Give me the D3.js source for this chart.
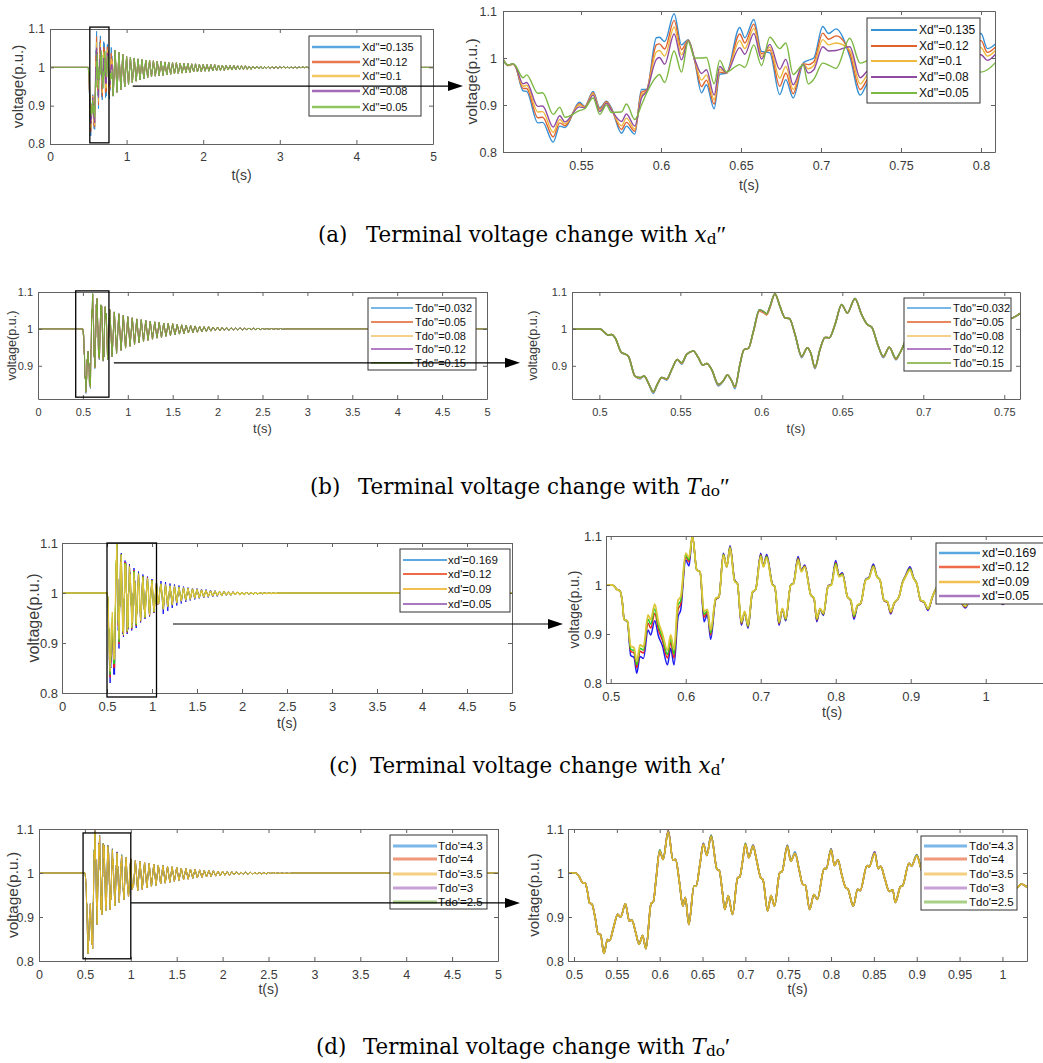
<!DOCTYPE html>
<html><head><meta charset="utf-8">
<script src="https://cdn.jsdelivr.net/npm/d3@7"></script>
<style>body{margin:0;background:#fff}svg{display:block}</style>
</head><body>
<svg id="c" width="1043" height="1063"></svg>
<script>
// ---------------- DATA ----------------
// (a) zoom window, Xd'' series
const tA = [0.5013,0.5044,0.5075,0.509,0.5138,0.516,0.523,0.526,0.5326,0.5367,0.540,0.549,0.5523,0.5576,0.5617,0.5659,0.569,0.5753,0.5784,0.5836,0.5878,0.591,0.5971,0.599,0.6023,0.6082,0.6128,0.617,0.6211,0.6253,0.6284,0.6332,0.6367,0.6409,0.6492,0.6524,0.658,0.6628,0.668,0.6742,0.678,0.6826,0.6888,0.692,0.6955,0.7011,0.7047,0.7094,0.718,0.7245,0.730,0.734,0.741,0.749,0.753,0.758,0.767,0.775,0.780,0.784,0.792,0.800,0.804,0.809];
const aXd135 = [.997,.984,.987,.982,.930,.929,.862,.863,.821,.855,.852,.906,.897,.929,.894,.908,.894,.840,.855,.838,.933,.933,1.043,1.044,1.035,1.094,1.028,1.039,.993,.926,.943,.892,.965,.968,1.065,1.043,1.082,1.014,1.011,.922,.954,.915,.989,.995,1.000,1.067,1.052,1.062,1.003,.921,.949,.925,1.000,1.060,1.027,1.045,.974,.917,.951,.940,1.010,1.052,1.020,1.030];
const aXd12 = [.997,.984,.987,.982,.935,.935,.873,.874,.832,.862,.856,.903,.896,.926,.891,.907,.892,.848,.863,.844,.927,.932,1.028,1.030,1.019,1.080,1.018,1.038,.994,.939,.953,.902,.970,.968,1.051,1.032,1.072,1.009,1.017,.940,.968,.924,.988,.986,.992,1.053,1.040,1.047,1.010,.933,.957,.936,.996,1.053,1.022,1.042,.977,.927,.956,.945,1.006,1.037,1.012,1.023];
const aXd10 = [.997,.984,.987,.983,.940,.942,.885,.886,.842,.869,.860,.900,.895,.924,.889,.905,.890,.856,.872,.849,.921,.930,1.013,1.016,1.004,1.066,1.007,1.038,.996,.953,.964,.911,.976,.969,1.037,1.020,1.063,1.003,1.023,.957,.982,.933,.988,.977,.984,1.039,1.028,1.032,1.017,.945,.966,.947,.991,1.046,1.017,1.040,.980,.938,.961,.949,1.001,1.022,1.004,1.016];
const aXd08 = [.997,.985,.988,.983,.945,.948,.897,.898,.853,.877,.864,.896,.894,.921,.886,.904,.889,.865,.881,.855,.915,.929,.997,1.001,.987,1.051,.996,1.037,.997,.967,.975,.921,.982,.969,1.022,1.008,1.052,.998,1.029,.976,.997,.943,.987,.968,.975,1.024,1.015,1.016,1.024,.958,.974,.958,.986,1.038,1.012,1.037,.983,.949,.967,.954,.996,1.007,.995,1.008];
const aXd05 = [.997,.985,.988,.984,.958,.964,.925,.926,.880,.895,.874,.888,.892,.915,.880,.900,.884,.885,.902,.869,.900,.925,.960,.965,.948,1.015,.970,1.035,1.000,1.000,1.001,.945,.995,.970,.986,.980,1.028,.984,1.044,1.020,1.032,.965,.985,.945,.955,.989,.985,.978,1.042,.989,.995,.985,.975,1.020,1.000,1.030,.990,.975,.980,.965,.985,.970,.975,.990];
// alternating trough/peak extremes every 0.025 s after the zoom window
const tailA0 = 0.825;
const tailA = [.925,1.045,.935,1.039,.942,1.034,.949,1.028,.955,1.026,.960,1.024,.964,1.022,.967,1.020,.970,1.019,.973,1.018,.975,1.017,.977,1.016,.978,1.015,.979,1.014,.980,1.013,.982,1.012,.983,1.012,.984,1.011,.985,1.010,.986,1.010,.987,1.009,.988,1.009,.988,1.008,.989,1.008,.990,1.007,.990,1.007,.991,1.007,.991,1.006,.992,1.006,.992,1.005,.993,1.005,.993,1.005,.994,1.004,.994,1.004,.995,1.004,.995,1.003,.995,1.003,.996,1.003,.996,1.003,.996,1.002,.997,1.002,.997,1.002,.997,1.002,.997,1.002,.998,1.002,.998,1.001,.998,1.001,.998,1.001,.998,1.001,.999,1.001,.999,1.001,.999,1.001,.999,1.000,.999,1.000,.999];

// (b) zoom window, Tdo'' series
const tB = [0.4831,0.5004,0.5056,0.5076,0.5097,0.5138,0.5158,0.5179,0.522,0.5251,0.5276,0.5302,0.5333,0.5358,0.5385,0.5416,0.5447,0.5481,0.5508,0.5539,0.558,0.5611,0.5638,0.5663,0.5693,0.5735,0.5765,0.579,0.5817,0.5837,0.5868,0.5893,0.592,0.5951,0.5988,0.6012,0.6033,0.6053,0.6084,0.6115,0.6146,0.6173,0.6208,0.6249,0.6284,0.6305,0.6331,0.6362,0.6393,0.642,0.6455,0.6496,0.6531,0.6578,0.6619,0.6654,0.6681,0.6722,0.6753,0.679,0.6831,0.6856,0.691,0.700,0.704,0.709,0.718,0.726,0.730,0.734,0.740,0.749,0.753,0.7597];
const bTdo032 = [1.0,1.0,.983,.985,.976,.935,.932,.926,.872,.864,.872,.854,.825,.850,.868,.861,.890,.917,.904,.931,.940,.922,.902,.906,.890,.845,.859,.875,.859,.838,.904,.944,.947,.994,1.052,1.048,1.041,1.061,1.096,1.061,1.030,1.028,.985,.922,.949,.935,.892,.944,.977,.976,1.012,1.066,1.043,1.083,1.039,1.012,1.005,.953,.922,.950,.916,.935,.990,1.065,1.035,1.061,.989,.912,.949,.923,1.0,1.060,1.028,1.042];
const bTdo05 = [1.0,1.0,.983,.985,.976,.935,.932,.926,.872,.866,.872,.854,.828,.850,.868,.863,.890,.917,.906,.931,.940,.922,.902,.906,.890,.848,.859,.875,.859,.841,.904,.944,.947,.992,1.048,1.044,1.038,1.057,1.094,1.061,1.030,1.028,.985,.924,.949,.935,.894,.944,.977,.976,1.012,1.065,1.043,1.082,1.039,1.012,1.005,.953,.924,.950,.918,.935,.990,1.065,1.035,1.061,.989,.913,.949,.924,1.0,1.060,1.028,1.042];
const bTdo08 = [1.0,1.0,.983,.985,.976,.935,.932,.926,.872,.867,.872,.854,.829,.850,.868,.864,.890,.917,.907,.931,.940,.922,.902,.906,.890,.849,.859,.875,.859,.842,.904,.944,.947,.993,1.050,1.046,1.040,1.059,1.095,1.061,1.030,1.028,.985,.925,.949,.935,.895,.944,.977,.976,1.012,1.066,1.043,1.082,1.039,1.012,1.005,.953,.925,.950,.919,.935,.990,1.065,1.035,1.061,.989,.914,.949,.925,1.0,1.060,1.028,1.042];
const bTdo12 = [1.0,1.0,.983,.985,.976,.935,.932,.926,.872,.868,.872,.854,.830,.850,.868,.865,.890,.917,.908,.931,.940,.922,.902,.906,.890,.850,.859,.875,.859,.843,.904,.944,.947,.994,1.051,1.047,1.041,1.060,1.095,1.061,1.030,1.028,.985,.926,.949,.935,.896,.944,.977,.976,1.012,1.066,1.043,1.082,1.039,1.012,1.005,.953,.926,.950,.920,.935,.990,1.065,1.035,1.061,.989,.914,.949,.925,1.0,1.060,1.028,1.042];
const bTdo15 = [1.0,1.0,.983,.985,.976,.935,.932,.926,.872,.868,.872,.854,.830,.850,.868,.865,.890,.917,.908,.931,.940,.922,.902,.906,.890,.850,.859,.875,.859,.843,.904,.944,.947,.994,1.052,1.048,1.041,1.061,1.095,1.061,1.030,1.028,.985,.926,.949,.935,.896,.944,.977,.976,1.012,1.066,1.043,1.082,1.039,1.012,1.005,.953,.926,.950,.920,.935,.990,1.065,1.035,1.061,.989,.914,.949,.925,1.0,1.060,1.028,1.042];
const tailB0 = 0.775;
const tailB = [.917,1.052,.925,1.046,.934,1.041,.942,1.037,.948,1.033,.953,1.030,.958,1.027,.962,1.025,.966,1.023,.969,1.021,.972,1.019,.975,1.018,.977,1.016,.980,1.015,.982,1.014,.984,1.012,.986,1.011,.987,1.010,.989,1.009,.990,1.008,.991,1.007,.992,1.006,.993,1.006,.994,1.005,.995,1.005,.995,1.004,.996,1.004,.996,1.003,.997,1.003,.997,1.003,.997,1.002,.998,1.002,.998,1.002,.998,1.002,.998,1.001,.999,1.001,.999,1.001,.999,1.001,.999,1.001,.999,1.000];

// (c) zoom window, xd' series
const tC = [0.4937,0.502,0.509,0.5124,0.5156,0.5178,0.5222,0.5267,0.5311,0.5347,0.5391,0.5436,0.5498,0.5533,0.5587,0.5636,0.5689,0.5756,0.58,0.5844,0.5898,0.5933,0.60,0.6044,0.6089,0.6147,0.6191,0.6244,0.6289,0.6333,0.64,0.6444,0.6502,0.6547,0.6591,0.6653,0.6689,0.6742,0.6787,0.6831,0.6889,0.6933,0.70,0.7036,0.708,0.7156,0.7187,0.7244,0.7289,0.7333,0.74,0.7436,0.7498,0.7542,0.7587,0.7667,0.7711,0.7747,0.7791,0.7836,0.7898,0.7942,0.80,0.8044,0.8089,0.8156,0.82,0.8244,0.8289,0.8333,0.84,0.8444,0.8502,0.8547,0.8591,0.8644,0.8689,0.8733,0.8778,0.8844,0.8889,0.8933,0.8991,0.9036,0.908,0.9133,0.9178,0.9231,0.9289,0.9311,0.94,0.95,0.955,0.96,0.966,0.973,0.98,0.99,1.00,1.006,1.016,1.023,1.03,1.04,1.05,1.056,1.066,1.0751,1.085,1.0964];
const cXd169 = [1.0,1.0,.990,.988,.963,.930,.925,.856,.852,.820,.854,.850,.908,.898,.927,.896,.876,.837,.871,.837,.935,.949,1.051,1.039,1.100,1.031,1.027,.925,.940,.889,.970,.976,1.065,1.037,1.080,1.010,1.003,.918,.944,.912,.984,.991,1.065,1.040,1.062,1.002,.997,.918,.950,.927,1.000,1.004,1.058,1.030,1.041,.980,.972,.925,.950,.938,.998,1.002,1.050,1.020,1.025,.976,.968,.930,.957,.962,1.012,1.016,1.043,1.019,1.010,.968,.965,.941,.962,.976,1.005,1.020,1.037,1.016,1.003,.968,.965,.948,.975,.984,1.009,1.033,1.013,1.006,.971,.953,.977,1.006,1.028,1.009,.974,.960,.978,1.004,1.022,1.007,.977,.979,1.002,1.018];
const cXd12 = [1.0,1.0,.990,.988,.963,.930,.926,.865,.861,.831,.865,.861,.922,.912,.942,.909,.887,.851,.883,.851,.950,.961,1.057,1.047,1.100,1.031,1.027,.934,.945,.898,.971,.976,1.063,1.037,1.078,1.009,1.003,.921,.945,.915,.985,.991,1.062,1.039,1.059,1.001,.997,.921,.951,.929,1.000,1.003,1.055,1.029,1.039,.980,.972,.928,.951,.940,.998,1.001,1.046,1.019,1.023,.976,.968,.934,.958,.962,1.011,1.015,1.040,1.018,1.010,.968,.965,.943,.962,.976,1.004,1.019,1.034,1.015,1.003,.968,.965,.950,.975,.984,1.008,1.031,1.012,1.006,.971,.955,.977,1.006,1.026,1.008,.974,.961,.978,1.004,1.021,1.006,.977,.979,1.001,1.017];
const cXd09 = [1.0,1.0,.990,.988,.963,.930,.926,.869,.866,.837,.871,.867,.930,.920,.951,.916,.894,.858,.890,.859,.959,.968,1.061,1.051,1.100,1.031,1.027,.940,.947,.902,.972,.976,1.062,1.037,1.077,1.008,1.003,.923,.945,.916,.985,.991,1.060,1.038,1.058,1.001,.997,.923,.951,.930,1.000,1.003,1.053,1.028,1.038,.980,.973,.930,.951,.941,.997,1.001,1.044,1.018,1.022,.976,.969,.936,.958,.963,1.011,1.015,1.039,1.018,1.010,.969,.966,.945,.963,.976,1.004,1.018,1.033,1.015,1.003,.969,.966,.951,.976,.984,1.008,1.030,1.012,1.006,.972,.956,.978,1.005,1.025,1.008,.975,.962,.978,1.003,1.020,1.006,.978,.980,1.001,1.016];
const cXd05 = [1.0,1.0,.990,.988,.963,.930,.927,.875,.872,.844,.878,.874,.939,.929,.961,.925,.901,.867,.898,.869,.969,.976,1.065,1.056,1.100,1.031,1.027,.946,.950,.908,.973,.976,1.061,1.037,1.075,1.007,1.003,.925,.946,.918,.986,.991,1.058,1.037,1.056,1.000,.997,.925,.952,.932,1.000,1.003,1.051,1.027,1.037,.980,.973,.932,.952,.942,.997,1.000,1.041,1.017,1.020,.976,.969,.939,.959,.963,1.010,1.014,1.037,1.017,1.010,.969,.966,.946,.963,.976,1.003,1.017,1.031,1.014,1.003,.969,.966,.952,.976,.984,1.008,1.028,1.012,1.006,.972,.957,.978,1.005,1.024,1.008,.975,.963,.978,1.003,1.019,1.006,.978,.980,1.000,1.015];
const tailC0 = 1.1;
const tailC = [1.018,.968,1.016,.973,1.014,.977,1.013,.981,1.011,.984,1.010,.986,1.009,.988,1.008,.990,1.007,.991,1.006,.992,1.005,.993,1.004,.994,1.004,.995,1.003,.995,1.003,.996,1.002,.996,1.002,.997,1.002,.997,1.001,.997,1.001,.998,1.001,.998,1.001,.998,1.001,.999,1.000,.999,1.000,.999,1.000,.999,1.000,1.000];
const tailCBlue = [1.024,.958,1.022,.964,1.019,.970,1.017,.975,1.015,.979,1.013,.982,1.011,.985,1.010,.987,1.009,.989,1.008,.990,1.007,.991,1.006,.992,1.005,.993,1.004,.994,1.004,.995,1.003,.995,1.003,.996,1.002,.996,1.002,.997,1.002,.997,1.001,.998,1.001,.998,1.001,.998,1.001,.999,1.000,.999,1.000,.999,1.000,1.000];

// (d) zoom window, Tdo' series
const tD = [0.493,0.502,0.506,0.510,0.513,0.516,0.518,0.521,0.525,0.528,0.531,0.535,0.539,0.5415,0.546,0.551,0.5545,0.560,0.5645,0.5675,0.572,0.576,0.580,0.584,0.590,0.5925,0.596,0.600,0.604,0.610,0.6155,0.6185,0.623,0.627,0.630,0.634,0.640,0.6425,0.647,0.651,0.655,0.660,0.667,0.6695,0.673,0.676,0.680,0.685,0.691,0.6935,0.697,0.700,0.704,0.709,0.713,0.718,0.7205,0.726,0.730,0.734,0.740,0.743,0.749,0.753,0.758,0.763,0.767,0.770,0.775,0.780,0.784,0.792,0.7945,0.800,0.804,0.808,0.812,0.817,0.8195,0.826,0.831,0.834,0.842,0.8445,0.851,0.855,0.858,0.863,0.868,0.872,0.875,0.881,0.8835,0.891,0.894,0.900,0.905,0.912,0.918,0.925,0.931,0.940,0.950,0.955,0.962,0.975,0.980,0.990,1.000,1.008,1.013,1.018,1.022,1.0287];
const dTdo43 = [1.0,1.0,.992,.978,.977,.955,.932,.929,.895,.862,.860,.817,.849,.846,.875,.906,.900,.930,.891,.893,.865,.838,.858,.828,.931,.934,.990,1.053,1.031,1.096,1.029,1.031,.980,.925,.944,.883,.970,.970,1.020,1.068,1.040,1.086,1.008,1.006,.960,.917,.948,.906,.989,.991,1.030,1.068,1.035,1.064,1.030,.989,.985,.914,.949,.925,1.000,1.004,1.063,1.027,1.048,1.005,.974,.972,.917,.951,.940,1.010,1.010,1.055,1.017,1.030,1.000,.967,.964,.925,.963,.960,1.017,1.014,1.048,1.010,1.015,.985,.958,.962,.933,.969,.971,1.022,1.016,1.042,1.010,.965,.962,.940,.965,1.012,1.035,1.008,.978,.947,.958,1.010,1.032,.990,.963,.968,.975,.968];
const dTdo4 = [1.0,1.0,.992,.978,.977,.955,.932,.929,.895,.862,.860,.817,.849,.846,.875,.906,.900,.930,.891,.893,.865,.838,.858,.828,.931,.934,.990,1.050,1.031,1.097,1.029,1.031,.980,.925,.944,.883,.970,.970,1.020,1.067,1.040,1.085,1.008,1.006,.960,.917,.948,.906,.989,.991,1.030,1.067,1.035,1.063,1.030,.989,.985,.914,.949,.925,1.000,1.004,1.062,1.027,1.045,1.005,.974,.972,.917,.951,.940,1.010,1.010,1.054,1.017,1.030,1.000,.967,.964,.925,.963,.960,1.017,1.014,1.047,1.010,1.015,.985,.958,.962,.933,.969,.971,1.022,1.016,1.039,1.010,.965,.962,.940,.965,1.012,1.035,1.008,.978,.947,.958,1.010,1.032,.990,.963,.968,.975,.968];
const dTdo35 = [1.0,1.0,.992,.978,.977,.955,.932,.929,.895,.862,.860,.817,.849,.846,.875,.906,.900,.930,.891,.893,.865,.838,.858,.828,.931,.934,.990,1.050,1.031,1.093,1.029,1.031,.980,.925,.944,.883,.970,.970,1.020,1.065,1.040,1.083,1.008,1.006,.960,.917,.948,.906,.989,.991,1.030,1.065,1.035,1.061,1.030,.989,.985,.914,.949,.925,1.000,1.004,1.060,1.027,1.045,1.005,.974,.972,.917,.951,.940,1.010,1.010,1.052,1.017,1.030,1.000,.967,.964,.925,.963,.960,1.017,1.014,1.045,1.010,1.015,.985,.958,.962,.933,.969,.971,1.022,1.016,1.039,1.010,.965,.962,.940,.965,1.012,1.035,1.008,.978,.947,.958,1.010,1.032,.990,.963,.968,.975,.968];
const dTdo3 = [1.0,1.0,.992,.978,.977,.955,.932,.929,.895,.862,.860,.817,.849,.846,.875,.906,.900,.930,.891,.893,.865,.838,.858,.828,.931,.934,.990,1.050,1.031,1.096,1.029,1.031,.980,.925,.944,.883,.970,.970,1.020,1.067,1.040,1.085,1.008,1.006,.960,.917,.948,.906,.989,.991,1.030,1.065,1.035,1.061,1.030,.989,.985,.914,.949,.925,1.000,1.004,1.063,1.027,1.045,1.005,.974,.972,.917,.951,.940,1.010,1.010,1.055,1.017,1.030,1.000,.967,.964,.925,.963,.960,1.017,1.014,1.048,1.010,1.015,.985,.958,.962,.933,.969,.971,1.022,1.016,1.041,1.010,.965,.962,.940,.965,1.012,1.035,1.008,.978,.947,.958,1.010,1.032,.990,.963,.968,.975,.968];
const dTdo25 = [1.0,1.0,.992,.978,.977,.955,.932,.929,.895,.862,.860,.817,.849,.846,.875,.906,.900,.930,.891,.893,.865,.838,.858,.828,.931,.934,.990,1.052,1.031,1.095,1.029,1.031,.980,.925,.944,.883,.970,.970,1.020,1.065,1.040,1.085,1.008,1.006,.960,.917,.948,.906,.989,.991,1.030,1.067,1.035,1.061,1.030,.989,.985,.914,.949,.925,1.000,1.004,1.062,1.027,1.045,1.005,.974,.972,.917,.951,.940,1.010,1.010,1.054,1.017,1.030,1.000,.967,.964,.925,.963,.960,1.017,1.014,1.045,1.010,1.015,.985,.958,.962,.933,.969,.971,1.022,1.016,1.041,1.010,.965,.962,.940,.965,1.012,1.035,1.008,.978,.947,.958,1.010,1.032,.990,.963,.968,.975,.968];
const tailD0 = 1.05;
const tailD = [1.028,.960,1.026,.963,1.024,.966,1.022,.969,1.020,.972,1.018,.975,1.017,.977,1.015,.979,1.014,.981,1.013,.983,1.011,.985,1.010,.986,1.009,.988,1.008,.989,1.007,.990,1.006,.991,1.006,.992,1.005,.993,1.004,.994,1.004,.995,1.003,.995,1.003,.996,1.003,.996,1.002,.997,1.002,.997,1.002,.997,1.001,.998,1.001,.998,1.001,.998,1.001,.999,1.001,.999,1.000,.999,1.000,.999,1.000,.999,1.000,1.000];

// labels and ticks
const labelsA = ["Xd''=0.135","Xd''=0.12","Xd''=0.1","Xd''=0.08","Xd''=0.05"];
const labelsB = ["Tdo''=0.032","Tdo''=0.05","Tdo''=0.08","Tdo''=0.12","Tdo''=0.15"];
const labelsC = ["xd'=0.169","xd'=0.12","xd'=0.09","xd'=0.05"];
const labelsD = ["Tdo'=4.3","Tdo'=4","Tdo'=3.5","Tdo'=3","Tdo'=2.5"];
const ticksFull1 = [0,1,2,3,4,5];
const ticksFullHalf = [0,0.5,1,1.5,2,2.5,3,3.5,4,4.5,5];
const ticksZoomA = [0.55,0.6,0.65,0.7,0.75,0.8];
const ticksZoomB = [0.5,0.55,0.6,0.65,0.7,0.75];
const ticksZoomC = [0.5,0.6,0.7,0.8,0.9,1];
const ticksZoomD = [0.5,0.55,0.6,0.65,0.7,0.75,0.8,0.85,0.9,0.95,1];
const yTicks4 = [0.8,0.9,1,1.1];
const yTicks3 = [0.9,1,1.1];
const captions = [
  {tag:"(a)", sym:"x", sub:"d", prime:"\u2033"},
  {tag:"(b)", sym:"T", sub:"do", prime:"\u2033"},
  {tag:"(c)", sym:"x", sub:"d", prime:"\u2032"},
  {tag:"(d)", sym:"T", sub:"do", prime:"\u2032"}
];

// ---------------- HELPERS ----------------
const svg = d3.select('#c');
const SANS = "'Liberation Sans', Arial, Helvetica, sans-serif";
const SERIF = "'DejaVu Serif', serif";
const AXIS = '#616161', TXT = '#3a3a3a';
const fmt = d => String(+d.toFixed(2));
const zip = (t, v) => t.map((ti, i) => [ti, v[i]]);
function overview(t, v, tail, t0) {
  const pts = [[0, 1], [0.5, 1]];
  zip(t, v).forEach(p => { if (p[0] > 0.5) pts.push(p); });
  tail.forEach((val, i) => pts.push([t0 + i * 0.025, val]));
  pts.push([5, 1]);
  return pts;
}

let clipN = 0;
function panel(p) {
  const x = d3.scaleLinear(p.xd, [p.l, p.r]);
  const y = d3.scaleLinear(p.yd, [p.b, p.t]);
  const g = svg.append('g');
  const cid = 'clip' + (clipN++);
  svg.append('clipPath').attr('id', cid).append('rect')
    .attr('x', p.l).attr('y', p.t).attr('width', p.r - p.l).attr('height', p.b - p.t);
  const line = d3.line().x(d => x(d[0])).y(d => y(d[1])).curve(p.curve);
  const lg = g.append('g').attr('clip-path', `url(#${cid})`);
  p.series.forEach(s => {
    lg.append('path').attr('d', line(s.data)).attr('fill', 'none')
      .attr('stroke', s.color).attr('stroke-width', s.w).attr('stroke-linejoin', 'round')
      .attr('opacity', s.op || 1);
  });
  const ax = (gen, tr, vals, lab, pad) => {
    const a = g.append('g').attr('transform', tr)
      .call(gen.tickValues(vals).tickSizeInner(-4).tickSizeOuter(0).tickPadding(pad).tickFormat(lab ? fmt : () => ''));
    a.select('.domain').attr('stroke', AXIS);
    a.selectAll('.tick line').attr('stroke', AXIS);
    a.selectAll('text').attr('fill', TXT).attr('font-family', SANS).attr('font-size', p.fs);
  };
  ax(d3.axisBottom(x), `translate(0,${p.b})`, p.xt, true, p.xpad);
  ax(d3.axisTop(x), `translate(0,${p.t})`, p.xt, false, 0);
  ax(d3.axisLeft(y), `translate(${p.l},0)`, p.yt, true, p.ypad);
  ax(d3.axisRight(y), `translate(${p.r},0)`, p.yt, false, 0);
  g.append('text').attr('x', p.xlx || (p.l + p.r) / 2).attr('y', p.xly)
    .attr('text-anchor', 'middle').attr('dominant-baseline', 'central')
    .attr('font-family', SANS).attr('font-size', p.lfs).attr('fill', TXT).text('t(s)');
  g.append('text').attr('transform', `translate(${p.ylx},${(p.t + p.b) / 2}) rotate(-90)`)
    .attr('text-anchor', 'middle').attr('dominant-baseline', 'central')
    .attr('font-family', SANS).attr('font-size', p.ylfs).attr('fill', TXT).text('voltage(p.u.)');
  // legend
  const L = p.leg;
  g.append('rect').attr('x', L.box[0]).attr('y', L.box[1]).attr('width', L.box[2] - L.box[0])
    .attr('height', L.box[3] - L.box[1]).attr('fill', '#fff').attr('stroke', '#333').attr('stroke-width', 1);
  L.labels.forEach((lab, i) => {
    g.append('line').attr('x1', L.line[0]).attr('x2', L.line[1]).attr('y1', L.rows[i]).attr('y2', L.rows[i])
      .attr('stroke', L.colors[i]).attr('stroke-width', L.w);
    g.append('text').attr('x', L.tx).attr('y', L.rows[i]).attr('dominant-baseline', 'central')
      .attr('font-family', SANS).attr('font-size', L.fs).attr('fill', '#111').text(lab);
  });
  return {x, y};
}

function zoomMark(sc, box, start, tip) {
  const [t0, t1, v0, v1] = box;
  svg.append('rect').attr('x', sc.x(t0)).attr('y', sc.y(v1)).attr('width', sc.x(t1) - sc.x(t0))
    .attr('height', sc.y(v0) - sc.y(v1)).attr('fill', 'none').attr('stroke', '#000').attr('stroke-width', 1.3);
  const yy = sc.y(start[1]);
  svg.append('line').attr('x1', sc.x(start[0])).attr('x2', tip - 12).attr('y1', yy).attr('y2', yy)
    .attr('stroke', '#000').attr('stroke-width', 1.2);
  svg.append('path').attr('d', `M${tip},${yy} L${tip - 15},${yy - 5} L${tip - 15},${yy + 5} Z`).attr('fill', '#000');
}

// ---------------- PANELS ----------------
const colA = ['#3590d4', '#e0622f', '#eeb93e', '#8f4aa3', '#7cb842'];
const colALeg = ['#5aa7e0', '#e87850', '#f3c860', '#a36ab5', '#90c660'];
const seriesA = [aXd135, aXd12, aXd10, aXd08, aXd05];

const aL = panel({l:50, r:433, t:29, b:144, xd:[0,5], yd:[0.8,1.1], xt:ticksFull1, yt:yTicks4,
  fs:12, lfs:14, ylfs:15, xpad:8, ypad:5, xly:175, ylx:17, curve:d3.curveLinear,
  series: seriesA.map((v, i) => ({data: overview(tA, v, tailA, tailA0), color: colA[i], w: 1})),
  leg:{box:[309,36,421,116], rows:[47,62,76,91,107], line:[312,360], tx:362, fs:11, w:2.5, labels:labelsA, colors:colALeg}});
const aR = panel({l:503, r:995, t:11, b:152, xd:[0.50125,0.80875], yd:[0.8,1.1], xt:ticksZoomA, yt:yTicks4,
  fs:12.5, lfs:14, ylfs:15.5, xpad:9, ypad:6, xly:185, ylx:471, curve:d3.curveMonotoneX,
  series: seriesA.map((v, i) => ({data: zip(tA, v), color: colA[i], w: 1.4})),
  leg:{box:[867,18,980,103], rows:[30,46,61,77,93], line:[871,917], tx:919, fs:12, w:1.8, labels:labelsA, colors:colA}});

const colB = ['#4aa0e0', '#e0602a', '#f0c060', '#9a50b0', '#78a832'];
const seriesB = [bTdo032, bTdo05, bTdo08, bTdo12, bTdo15];
const bL = panel({l:38, r:487, t:292, b:399, xd:[0,5], yd:[0.81,1.1], xt:ticksFullHalf, yt:yTicks3,
  fs:11, lfs:13, ylfs:12.6, xpad:9, ypad:5, xly:428, ylx:12, curve:d3.curveLinear,
  series: seriesB.map((v, i) => ({data: overview(tB, v, tailB, tailB0), color: colB[i], w: 1})),
  leg:{box:[368,298,476,370], rows:[308,322,336,349,363], line:[371,413], tx:415, fs:11, w:1.6, labels:labelsB, colors:colB}});
const bR = panel({l:572, r:1020, t:292, b:399, xd:[0.4831,0.7597], yd:[0.81,1.1], xt:ticksZoomB, yt:yTicks3,
  fs:11, lfs:13, ylfs:12.6, xpad:9, ypad:5, xly:428, ylx:533, curve:d3.curveMonotoneX,
  series: seriesB.map((v, i) => ({data: zip(tB, v), color: colB[i], w: 1.5})),
  leg:{box:[904,298,1011,371], rows:[308,322,336,349,363], line:[907,951], tx:953, fs:11, w:1.6, labels:labelsB, colors:colB}});

const colC = ['#1c1cf0', '#f02020', '#22d022', '#dcc638'];
const colCLeg = ['#5aa8e0', '#ee6a48', '#f2c050', '#a878c0'];
const seriesC = [cXd169, cXd12, cXd09, cXd05];
const cL = panel({l:62, r:512, t:543, b:693, xd:[0,5], yd:[0.8,1.1], xt:ticksFullHalf, yt:yTicks4,
  fs:13, lfs:14, ylfs:16, xpad:8.5, ypad:4, xly:723, ylx:33, curve:d3.curveLinear,
  series: seriesC.map((v, i) => ({data: overview(tC, v, i === 0 ? tailCBlue : tailC, tailC0), color: colC[i], w: i === 3 ? 1.3 : 1})),
  leg:{box:[400,549,510,612], rows:[560,574,589,604], line:[403,447], tx:448, fs:11.5, w:2, labels:labelsC, colors:colCLeg}});
const cR = panel({l:606, r:1058, t:536, b:683, xd:[0.4937,1.0964], yd:[0.8,1.1], xt:ticksZoomC, yt:yTicks4,
  fs:13, lfs:14, ylfs:14, xpad:9, ypad:4, xly:712, ylx:574, curve:d3.curveMonotoneX,
  series: seriesC.map((v, i) => ({data: zip(tC, v), color: colC[i], w: i === 3 ? 1.8 : 1.5})),
  leg:{box:[936,543,1056,604], rows:[553,567,582,596], line:[939,980], tx:982, fs:12.5, w:2.5, labels:labelsC, colors:colCLeg}});

const colD = {b:'#2f8fe0', r:'#e2583a', y:'#e2b52a', p:'#8c4aa8', g:'#6cb040'};
const colDLeg = ['#7ab8ea', '#f0987a', '#f5d080', '#c7a0d6', '#a8d088'];
// draw order: yellow (Tdo'=3.5) on top
const seriesD = [[dTdo43, colD.b], [dTdo4, colD.r], [dTdo3, colD.p], [dTdo25, colD.g], [dTdo35, colD.y]];
const dL = panel({l:39, r:498, t:829, b:961, xd:[0,5], yd:[0.8,1.1], xt:ticksFullHalf, yt:yTicks4,
  fs:12.5, lfs:14, ylfs:15.5, xpad:9, ypad:5, xly:989, ylx:12, curve:d3.curveLinear,
  series: seriesD.map(s => ({data: overview(tD, s[0], tailD, tailD0), color: s[1], w: 1})),
  leg:{box:[390,835,487,909], rows:[846,859,874,888,902], line:[393,437], tx:438, fs:11.5, w:3, labels:labelsD, colors:colDLeg}});
const dR = panel({l:568, r:1027, t:829, b:961, xd:[0.493,1.0287], yd:[0.8,1.1], xt:ticksZoomD, yt:yTicks4,
  fs:12.5, lfs:14, ylfs:15, xpad:9, ypad:4, xly:989, ylx:533, curve:d3.curveMonotoneX,
  series: seriesD.map(s => ({data: zip(tD, s[0]), color: s[1], w: 1.6})),
  leg:{box:[921,836,1017,910], rows:[846,859,874,888,902], line:[924,967], tx:969, fs:11.5, w:3, labels:labelsD, colors:colDLeg}});

// zoom boxes and arrows (drawn over legends)
zoomMark(aL, [0.52, 0.77, 0.803, 1.105], [1.08, 0.951], 463);
zoomMark(bL, [0.42, 0.79, 0.815, 1.103], [0.845, 0.908], 520);
zoomMark(cL, [0.5, 1.05, 0.792, 1.1], [1.233, 0.938], 563);
zoomMark(dL, [0.48, 1.0, 0.805, 1.091], [1.004, 0.932], 520);

// ---------------- CAPTIONS ----------------
const probe = svg.append('text').attr('font-family', SERIF).attr('font-size', 20).text('Terminal voltage change with');
const capFs = 20 * 322 / probe.node().getComputedTextLength();
probe.remove();
const capPos = [[318, 366, 242], [310, 358, 494], [329, 370, 773], [316, 363, 1054]];
captions.forEach((c, i) => {
  const [x1, x2, yb] = capPos[i];
  svg.append('text').attr('x', x1).attr('y', yb).attr('font-family', SERIF).attr('font-size', capFs).text(c.tag);
  const t = svg.append('text').attr('x', x2).attr('y', yb).attr('font-family', SERIF).attr('font-size', capFs);
  t.append('tspan').text('Terminal voltage change with ');
  t.append('tspan').attr('font-style', 'italic').text(c.sym);
  t.append('tspan').attr('font-size', capFs * 0.72).attr('dy', 2).text(c.sub);
  t.append('tspan').attr('dy', -2).attr('font-family', "'Liberation Serif', serif").attr('font-size', capFs * 1.1).text(c.prime);
});
</script>
</body></html>
